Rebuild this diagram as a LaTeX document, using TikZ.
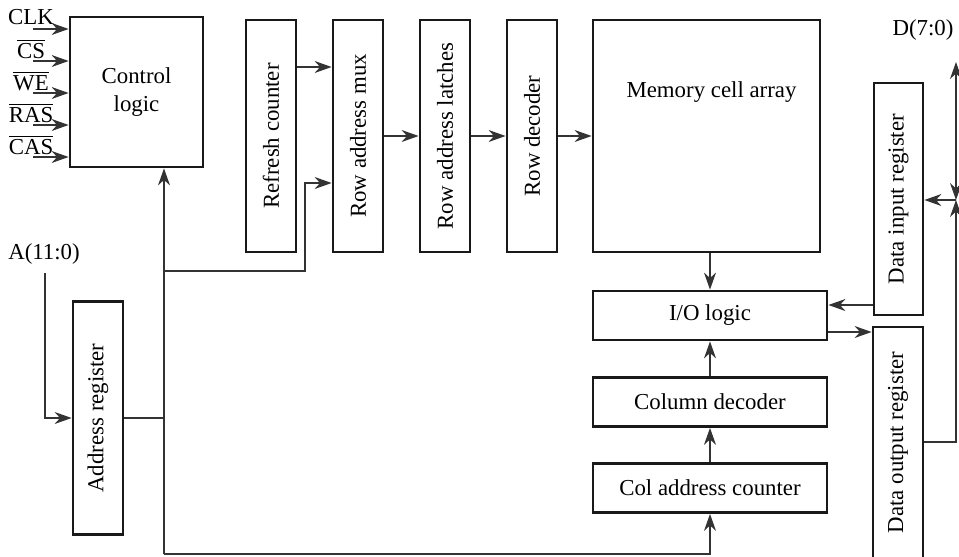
\documentclass[tikz,border=0pt]{standalone}
\usepackage{fontspec}
\setmainfont{Liberation Serif}
\usetikzlibrary{arrows.meta}

\begin{document}
\begin{tikzpicture}[x=0.2mm, y=-0.2mm,
    font=\fontsize{13}{15.5}\selectfont,
    blk/.style={draw=black!90, line width=1.6pt, inner sep=0pt, align=center},
    vblk/.style={blk, minimum width=10mm, minimum height=46.4mm},
    hblk/.style={blk, minimum width=46.8mm, minimum height=9.8mm},
    wire/.style={draw=black!80, line width=0.6pt},
    arr/.style={wire, -{Stealth[length=3.4mm, width=2.4mm, inset=1.1mm]}},
    biarr/.style={wire, {Stealth[length=3.4mm, width=2.4mm, inset=1.1mm]}-{Stealth[length=3.4mm, width=2.4mm, inset=1.1mm]}}]
    % Frame
    \useasboundingbox (0,0) rectangle (959,556);
    \clip (0,0) rectangle (959,556);

    % Control logic and its inputs
    \node[blk, minimum width=26.6mm, minimum height=30mm] (ctrl) at (136.5,92) {Control\\logic};
    \foreach \y/\sig/\nm in {29/CLK/clk, 61/{$\overline{\hbox{CS}}$}/cs, 93/{$\overline{\hbox{WE}}$}/we,
                             125/{$\overline{\hbox{RAS}}$}/ras, 157/{$\overline{\hbox{CAS}}$}/cas} {
        \node (lbl-\nm) at (31,\y-12) {\sig};
        \coordinate (pin-\nm) at (33,\y);
        \draw[arr] (pin-\nm) -- (ctrl.west |- pin-\nm);
    }

    % Row path
    \node[vblk] (rfc) at (271,136) {\rotatebox{90}{Refresh counter}};
    \node[vblk] (ramux) at (358,136) {\rotatebox{90}{Row address mux}};
    \node[vblk] (ralat) at (445,136) {\rotatebox{90}{Row address latches}};
    \node[vblk] (rdec) at (532,136) {\rotatebox{90}{Row decoder}};
    \node[blk, minimum width=45.4mm, minimum height=46.4mm,
          label={[anchor=center, xshift=1mm, yshift=-14.6mm]north:Memory cell array}] (mca) at (706.5,136) {};
    \draw[arr] (rfc.east |- 0,67) -- (ramux.west |- 0,67);
    \draw[arr] (ramux) -- (ralat);
    \draw[arr] (ralat) -- (rdec);
    \draw[arr] (rdec) -- (mca);

    % Column path
    \node[hblk] (iol) at (710,315.5) {I/O logic};
    \node[hblk] (cdec) at (710,402) {Column decoder};
    \node[hblk] (ccnt) at (710,488) {Col address counter};
    \draw[arr] (mca.south -| iol) -- (iol.north);
    \draw[arr] (cdec) -- (iol);
    \draw[arr] (ccnt) -- (cdec);

    % Address input and bus
    \node[blk, minimum width=10mm, minimum height=46.6mm] (areg) at (98,418) {\rotatebox{90}{Address register}};
    \node (alab) at (44,254) {A(11:0)};
    \coordinate (ain) at (45,273);
    \coordinate (abus) at (164,418);
    \coordinate (abot) at (164,554);
    \coordinate (atap) at (164,271);
    \coordinate (mtap) at (305,271);
    \draw[arr] (ain) |- (areg.west);
    \draw[wire] (areg.east) -- (abus);
    \draw[arr] (abot) -- (ctrl.south -| abot);
    \draw[arr] (abot) -| (ccnt.south);
    \draw[arr] (atap) -- (mtap) |- (ramux.west |- 0,183);

    % Data registers
    \node[vblk, minimum width=9.8mm] (dinr) at (898.5,199) {\rotatebox{90}{Data input register}};
    \node[vblk, minimum height=46.2mm] (doutr) at (898,442.5) {\rotatebox{90}{Data output register}};
    \draw[arr] (dinr.west |- 0,305) -- (iol.east |- 0,305);
    \draw[arr] (iol.east |- 0,332) -- (doutr.west |- 0,332);
    \node (dlab) at (923,30) {D(7:0)};
    \coordinate (dtop) at (956,62);
    \coordinate (dj) at (956,200);
    \draw[arr] (doutr.east |- 0,442) -| (dj);
    \draw[biarr] (dj) -- (dtop);
    \draw[arr] (dj) -- (dinr.east |- dj);
\end{tikzpicture}
\end{document}
